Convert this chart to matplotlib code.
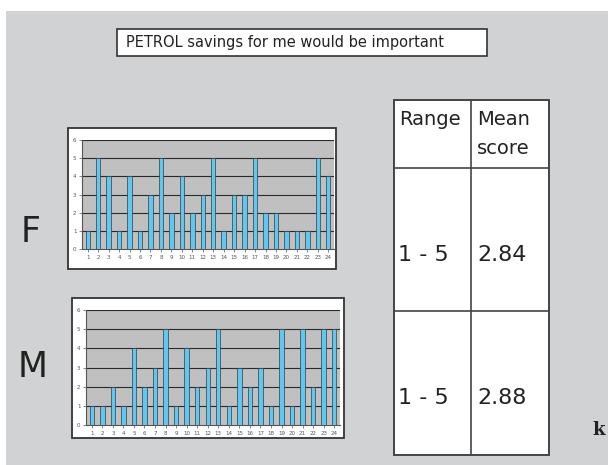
import matplotlib
matplotlib.use("Agg")
import matplotlib.pyplot as plt
import numpy as np
from matplotlib.patches import Rectangle

# datos
preguntas = list(range(1, 25))
puntaje_f = [1, 5, 4, 1, 4, 1, 3, 5, 2, 4, 2, 3, 5, 1, 3, 3, 5, 2, 2, 1, 1, 1, 5, 4]
puntaje_m = [1, 1, 2, 1, 4, 2, 3, 5, 1, 4, 2, 3, 5, 1, 3, 2, 3, 1, 5, 1, 5, 2, 5, 5]
rangos = ["1 - 5", "1 - 5"]
medias = ["2.84", "2.88"]
titulo = "PETROL savings for me would be important"

W, H = 608, 465
fondo = "#d1d2d4"
fig = plt.figure(figsize=(W / 100, H / 100), dpi=100)
fig.patch.set_facecolor("white")

# capa de fondo en pixeles
base = fig.add_axes([0, 0, 1, 1])
base.set_xlim(0, W)
base.set_ylim(H, 0)
base.axis("off")
base.add_patch(Rectangle((6, 11), W - 6, H - 11, facecolor=fondo, edgecolor="none"))

# caja del titulo
base.add_patch(Rectangle((117, 29), 370, 27, facecolor="white", edgecolor="#333333", lw=1.2))
base.text(126, 43, titulo, fontsize=10.5, va="center", ha="left", color="#222222")

# letras F y M
base.text(31, 232, "F", fontsize=25, ha="center", va="center", color="#222222")
base.text(33, 367, "M", fontsize=25, ha="center", va="center", color="#222222")
base.text(599, 430, "k", fontsize=13, ha="center", va="center", fontweight="bold",
          family="DejaVu Serif", color="#222222")

# tabla
tx0, tx1, tmid = 394, 549, 471
ty0, ty1, ty2, ty3 = 100, 168, 311, 455
base.add_patch(Rectangle((tx0, ty0), tx1 - tx0, ty3 - ty0, facecolor="white",
                         edgecolor="#444444", lw=1.4))
base.plot([tmid, tmid], [ty0, ty3], color="#444444", lw=1.2)
for yy in [ty1, ty2]:
    base.plot([tx0, tx1], [yy, yy], color="#444444", lw=1.2)
base.text(399, 119, "Range", fontsize=14, va="center", ha="left", color="#222222")
base.text(477, 119, "Mean", fontsize=14, va="center", ha="left", color="#222222")
base.text(477, 148, "score", fontsize=14, va="center", ha="left", color="#222222")
filas_y = [255, 398]
for r, m, yy in zip(rangos, medias, filas_y):
    base.text(398, yy, r, fontsize=16, va="center", ha="left", color="#222222")
    base.text(477, yy, m, fontsize=16, va="center", ha="left", color="#222222")

# cajas blancas de los graficos
base.add_patch(Rectangle((68, 128), 268, 141, facecolor="white", edgecolor="#333333", lw=1.3))
base.add_patch(Rectangle((72, 298), 272, 140, facecolor="white", edgecolor="#333333", lw=1.3))


def ejes(x0, y0, x1, y1):
    return fig.add_axes([x0 / W, 1 - y1 / H, (x1 - x0) / W, (y1 - y0) / H])


def barras(ax, valores):
    x = np.arange(len(preguntas))
    ax.set_facecolor("#c0c0c0")
    ax.bar(x, valores, width=0.42, color="#5ec8f5", edgecolor="#3a3a3a", lw=0.5, zorder=3)
    ax.set_ylim(0, 6)
    ax.set_xlim(-0.55, len(preguntas) - 0.45)
    ax.set_yticks(range(7))
    ax.set_xticks(x)
    ax.set_xticklabels([str(p) for p in preguntas])
    ax.tick_params(labelsize=4, length=2, width=0.5, pad=2, colors="#555555")
    for yy in range(1, 7):
        ax.axhline(yy, color="#2a2a2a", lw=0.8, zorder=2)
    for s in ["top", "right"]:
        ax.spines[s].set_visible(False)
    ax.spines["left"].set_color("#555555")
    ax.spines["bottom"].set_color("#555555")


ax_f = ejes(82, 140, 334, 249)
barras(ax_f, puntaje_f)
ax_m = ejes(86, 310, 340, 425)
barras(ax_m, puntaje_m)

fig.savefig("out.png", dpi=100)
